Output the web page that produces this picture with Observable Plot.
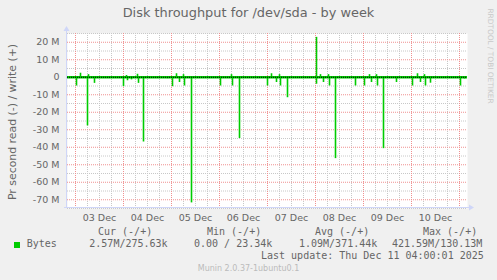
<!DOCTYPE html>
<html><head><meta charset="utf-8">
<script src="https://cdn.jsdelivr.net/npm/d3@7"></script>
<script src="https://cdn.jsdelivr.net/npm/@observablehq/plot@0.6"></script>
<style>
html,body{margin:0;padding:0;background:#f0f0f0;}
#wrap{position:relative;width:497px;height:280px;overflow:hidden;font-family:"DejaVu Sans",sans-serif;color:#666;background:#f0f0f0;}
.t{position:absolute;white-space:nowrap;}
.mono{font-family:"DejaVu Sans Mono",monospace;font-size:10px;line-height:12px;}
#chart{position:absolute;left:0;top:0;}
</style></head><body>
<div id="wrap">
  <div id="chart"></div>
  <div class="t" style="left:0;width:497px;text-align:center;top:5px;font-size:12.9px;line-height:16px;color:#666;">Disk throughput for /dev/sda - by week</div>
  <div class="t" style="left:11.5px;top:121.7px;font-size:10.9px;line-height:13px;transform:translate(-50%,-50%) rotate(-90deg);color:#666;">Pr second read (-) / write (+)</div>
  <div class="t" style="left:490px;top:56px;font-size:7.4px;line-height:9px;transform:translate(-50%,-50%) rotate(90deg);color:#c8c8c8;">RRDTOOL / TOBI OETIKER</div>
  <div id="legend"></div>
  <div class="t" style="left:0;width:497px;text-align:center;top:264px;font-size:8px;line-height:10px;color:#bbb;">Munin 2.0.37-1ubuntu0.1</div>
</div>
<script>
// ---- data (values in millions of bytes per second) ----
const readTimes = [
  "2025-12-03T00:30Z","2025-12-03T06:00Z","2025-12-03T09:30Z",
  "2025-12-04T00:00Z","2025-12-04T02:00Z","2025-12-04T04:00Z","2025-12-04T07:30Z","2025-12-04T10:00Z","2025-12-04T22:00Z",
  "2025-12-05T00:30Z","2025-12-05T04:00Z","2025-12-05T06:30Z","2025-12-05T10:00Z",
  "2025-12-06T00:30Z","2025-12-06T06:30Z","2025-12-06T10:00Z",
  "2025-12-07T00:00Z","2025-12-07T04:30Z","2025-12-07T06:30Z","2025-12-07T10:00Z",
  "2025-12-08T00:30Z","2025-12-08T04:00Z","2025-12-08T07:00Z","2025-12-08T10:00Z","2025-12-08T20:00Z",
  "2025-12-09T00:30Z","2025-12-09T04:00Z","2025-12-09T07:00Z","2025-12-09T10:00Z","2025-12-09T16:30Z",
  "2025-12-10T00:30Z","2025-12-10T04:30Z","2025-12-10T07:00Z","2025-12-10T09:30Z",
  "2025-12-11T00:30Z","2025-12-11T02:30Z"
];
const readValues = [
  -5, -27.8, -3.5,
  -5.4, -2, -1.5, -3.5, -37, -0.8,
  -5.4, -3, -5, -71.8,
  -5, -5, -35,
  -5, -3, -5, -11.7,
  -4, -3, -5, -46.5, -5,
  -5, -3, -5, -40.8, -3,
  -5, -3, -5, -3.4,
  -5, -1
];
const writeTimes = [
  "2025-12-03T02:30Z","2025-12-03T06:30Z","2025-12-04T01:30Z","2025-12-04T07:00Z",
  "2025-12-05T02:30Z","2025-12-05T06:00Z","2025-12-06T06:00Z","2025-12-07T02:00Z",
  "2025-12-07T06:00Z","2025-12-08T00:30Z","2025-12-08T02:30Z","2025-12-08T06:30Z",
  "2025-12-09T03:00Z","2025-12-09T06:30Z","2025-12-10T03:00Z","2025-12-10T06:30Z"
];
const writeValues = [2.3, 1.5, 1, 1.7, 2, 1.5, 1.5, 2, 1.5, 22.8, 1.5, 1.5, 1.5, 1.5, 2, 1.5];

const xTickDays = ["2025-12-03T12:00Z","2025-12-04T12:00Z","2025-12-05T12:00Z","2025-12-06T12:00Z","2025-12-07T12:00Z","2025-12-08T12:00Z","2025-12-09T12:00Z","2025-12-10T12:00Z"];
const xTickLabels = ["03 Dec","04 Dec","05 Dec","06 Dec","07 Dec","08 Dec","09 Dec","10 Dec"];
const yTicks = [20, 10, 0, -10, -20, -30, -40, -50, -60, -70];
const yTickLabels = ["20 M","10 M","0","-10 M","-20 M","-30 M","-40 M","-50 M","-60 M","-70 M"];

const legendHeaders = ["Cur (-/+)","Min (-/+)","Avg (-/+)","Max (-/+)"];
const legendSeries = "Bytes";
const legendValues = ["2.57M/275.63k","0.00 / 23.34k","1.09M/371.44k","421.59M/130.13M"];
const lastUpdate = "Last update: Thu Dec 11 04:00:01 2025";

// ---- build ----
const xDomain = [new Date("2025-12-02T20:00Z"), new Date("2025-12-11T04:00Z")];
const yDomain = [-75, 25];
const readData = readTimes.map((t,i)=>({t:new Date(t), v:readValues[i]}));
const writeData = writeTimes.map((t,i)=>({t:new Date(t), v:writeValues[i]}));
const xTicks = xTickDays.map(d=>new Date(d));
const majorX = d3.utcDay.range(xDomain[0], xDomain[1]);
const minorX = d3.utcHour.every(6).range(xDomain[0], xDomain[1]).filter(d=>d.getUTCHours()!==0);
const majorY = yTicks;
const minorY = d3.range(-75, 26, 5).filter(v=>v % 10 !== 0);
const green = "#00cc00";

const plot = Plot.plot({
  width: 497, height: 230,
  marginLeft: 67, marginRight: 30, marginTop: 33, marginBottom: 22,
  x: {type:"utc", domain: xDomain},
  y: {domain: yDomain},
  style: {fontFamily:"DejaVu Sans, sans-serif", fontSize:"9.5px", color:"#666", background:"transparent", overflow:"visible"},
  marks: [
    Plot.frame({fill:"white", stroke:null}),
    Plot.ruleX(minorX, {stroke:"#c8c8c8", strokeDasharray:"1,1"}),
    Plot.ruleY(minorY, {stroke:"#c8c8c8", strokeDasharray:"1,1"}),
    Plot.ruleX(majorX, {stroke:"#f09090", strokeDasharray:"1,1"}),
    Plot.ruleY(majorY, {stroke:"#f09090", strokeDasharray:"1,1"}),
    Plot.axisX({ticks: xTicks, tickSize:0, tickPadding:6, label:null,
      tickFormat: d => xTickLabels[xTicks.findIndex(t=>+t===+d)]}),
    Plot.axisY({ticks: yTicks, tickSize:0, tickPadding:8, label:null,
      tickFormat: d => yTickLabels[yTicks.indexOf(d)]}),
    Plot.ruleY([0], {stroke: green, strokeWidth: 2.5}),
    Plot.ruleX(readData, {x:"t", y1:0, y2:"v", stroke: green, strokeWidth:1.6}),
    Plot.ruleX(writeData, {x:"t", y1:0, y2:"v", stroke: green, strokeWidth:1.6}),
    Plot.ruleY([0], {stroke:"#000", strokeDasharray:"1,1", strokeWidth:1})
  ]
});

// axis lines with arrows (munin/rrdtool style)
const xs = plot.scale("x"), ys = plot.scale("y");
const xl = xs.apply(xDomain[0]), xr = xs.apply(xDomain[1]);
const yb = ys.apply(yDomain[0]), yt = ys.apply(yDomain[1]);
const svg = d3.select(plot);
const axisCol = "#cfd6f8";
svg.append("line").attr("x1", xl-0.5).attr("x2", xl-0.5).attr("y1", yb).attr("y2", yt-4).attr("stroke", axisCol);
svg.append("line").attr("x1", xl-3).attr("x2", xr+4).attr("y1", yb-0.5).attr("y2", yb-0.5).attr("stroke", axisCol);
svg.append("path").attr("d", `M${xl-3.5},${yt-2}L${xl+2.5},${yt-2}L${xl-0.5},${yt-7}Z`).attr("fill", axisCol);
svg.append("path").attr("d", `M${xr+2},${yb-3.5}L${xr+2},${yb+2.5}L${xr+7},${yb-0.5}Z`).attr("fill", axisCol);
document.getElementById("chart").appendChild(plot);

// legend
const lg = document.getElementById("legend");
const hdrX = [98, 207, 315, 423];
const valX = [89.3, 194, 299, 392];
function addText(txt, x, top, cls, extra) {
  const d = document.createElement("div");
  d.className = "t " + cls;
  d.style.left = x + "px"; d.style.top = top + "px";
  if (extra) Object.assign(d.style, extra);
  d.textContent = txt; lg.appendChild(d);
}
legendHeaders.forEach((h,i)=>addText(h, hdrX[i], 226.3, "mono"));
const sq = document.createElement("div");
Object.assign(sq.style, {position:"absolute", left:"14px", top:"241.5px", width:"6px", height:"6px", background:green});
lg.appendChild(sq);
addText(legendSeries, 26.7, 238.3, "mono");
legendValues.forEach((v,i)=>addText(v, valX[i], 238.3, "mono"));
addText(lastUpdate, 261, 250, "mono");
</script>
</body></html>
